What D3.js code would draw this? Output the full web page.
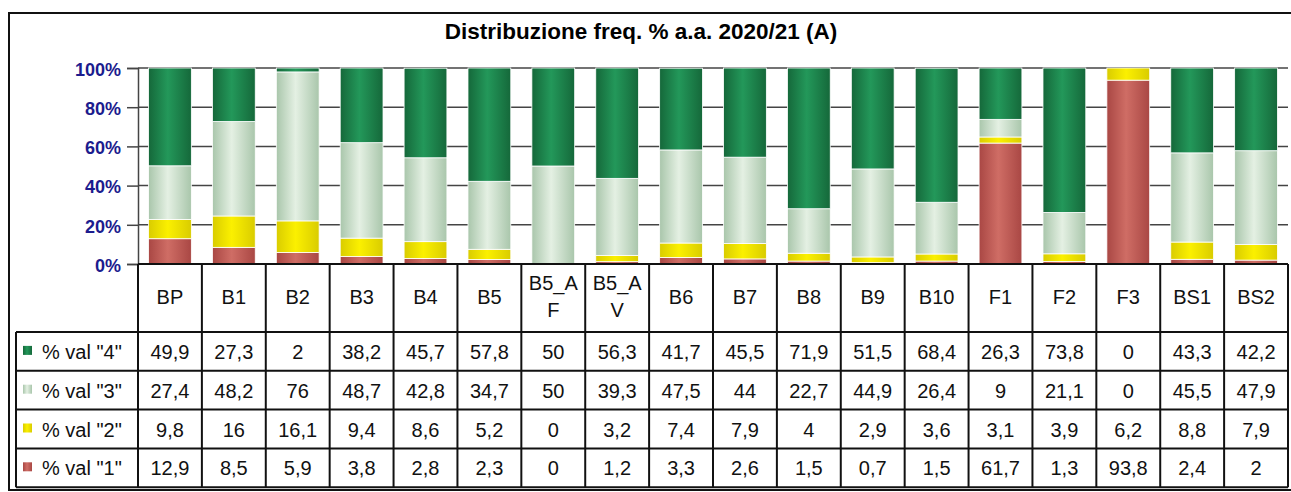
<!DOCTYPE html>
<html lang="it">
<head>
<meta charset="UTF-8">
<title>Distribuzione freq.</title>
<style>
  body { margin: 0; background: #fff; }
  svg { display: block; font-family: "Liberation Sans", Arial, sans-serif; }
</style>
</head>
<body>
<svg width="1291" height="492"></svg>
<script src="https://d3js.org/d3.v7.min.js"></script>
<script>
// data
var categories = ["BP","B1","B2","B3","B4","B5","B5_AF","B5_AV","B6","B7","B8","B9","B10","F1","F2","F3","BS1","BS2"];
var headerLabels = ["BP","B1","B2","B3","B4","B5","B5_A|F","B5_A|V","B6","B7","B8","B9","B10","F1","F2","F3","BS1","BS2"];
var val4 = [49.9,27.3,2,38.2,45.7,57.8,50,56.3,41.7,45.5,71.9,51.5,68.4,26.3,73.8,0,43.3,42.2];
var val3 = [27.4,48.2,76,48.7,42.8,34.7,50,39.3,47.5,44,22.7,44.9,26.4,9,21.1,0,45.5,47.9];
var val2 = [9.8,16,16.1,9.4,8.6,5.2,0,3.2,7.4,7.9,4,2.9,3.6,3.1,3.9,6.2,8.8,7.9];
var val1 = [12.9,8.5,5.9,3.8,2.8,2.3,0,1.2,3.3,2.6,1.5,0.7,1.5,61.7,1.3,93.8,2.4,2];
var seriesNames = ['% val "4"', '% val "3"', '% val "2"', '% val "1"'];
var yTicks = [0,20,40,60,80,100];
var title = "Distribuzione freq. % a.a. 2020/21 (A)";

var svg = d3.select("svg");

// layout
var plotLeft = 138, plotRight = 1288, plotTop = 68, plotBottom = 264;
var headerBottom = 332, rowH = 38.8, legendLeft = 16;

// gradients (cylinder look)
var defs = svg.append("defs");
var grad = [
  ["g4", "#15683a", "#23985a"],
  ["g3", "#a9c6ab", "#e4f0e3"],
  ["g2", "#d9cc00", "#fbf000"],
  ["g1", "#a94744", "#cf6d65"]
];
grad.forEach(function(g) {
  var lg = defs.append("linearGradient").attr("id", g[0]).attr("x1", 0).attr("x2", 1).attr("y1", 0).attr("y2", 0);
  lg.append("stop").attr("offset", "0%").attr("stop-color", g[1]);
  lg.append("stop").attr("offset", "45%").attr("stop-color", g[2]);
  lg.append("stop").attr("offset", "100%").attr("stop-color", g[1]);
});

// outer frame
svg.append("rect")
  .attr("x", 9).attr("y", 13).attr("width", 1300).attr("height", 477)
  .attr("fill", "none").attr("stroke", "#111").attr("stroke-width", 2);

svg.append("text")
  .attr("x", 641).attr("y", 39)
  .attr("text-anchor", "middle")
  .attr("font-size", 22.5).attr("font-weight", "bold")
  .text(title);

var x = d3.scaleBand().domain(categories).range([plotLeft, plotRight])
  .paddingInner(0.33).paddingOuter(0.165);
var y = d3.scaleLinear().domain([0, 100]).range([plotBottom, plotTop]);

// gridlines
svg.append("g").selectAll("line").data(yTicks.slice(1)).join("line")
  .attr("x1", plotLeft).attr("x2", plotRight)
  .attr("y1", function(d) { return y(d); }).attr("y2", function(d) { return y(d); })
  .attr("stroke", "#444").attr("stroke-width", 1.5);

// y axis
var yAxis = svg.append("g").attr("transform", "translate(" + plotLeft + ",0)")
  .call(d3.axisLeft(y).tickValues(yTicks).tickSize(11).tickPadding(6).tickFormat(function(d) { return d + "%"; }));
yAxis.select(".domain").attr("stroke", "#444").attr("stroke-width", 1.5);
yAxis.selectAll(".tick line").attr("stroke", "#444").attr("stroke-width", 1.5);
yAxis.selectAll("text").attr("fill", "#1c1c8e").attr("font-size", 18).attr("font-weight", "bold")
  .attr("font-family", "Liberation Sans, Arial, sans-serif").attr("dy", "0.4em");

// stacked bars
var rows = categories.map(function(c, i) { return { cat: c, v1: val1[i], v2: val2[i], v3: val3[i], v4: val4[i] }; });
var stack = d3.stack().keys(["v1", "v2", "v3", "v4"]);
var stacked = stack(rows);
var fills = { v1: "url(#g1)", v2: "url(#g2)", v3: "url(#g3)", v4: "url(#g4)" };

svg.append("g").selectAll("g").data(stacked).join("g")
  .attr("fill", function(s) { return fills[s.key]; })
  .selectAll("rect").data(function(s) { return s; }).join("rect")
  .attr("x", function(d) { return x(d.data.cat); })
  .attr("width", x.bandwidth())
  .attr("y", function(d) { return y(Math.min(d[1], 100)); })
  .attr("height", function(d) { return Math.max(0, y(d[0]) - y(Math.min(d[1], 100))); })
  .attr("stroke", "#fff").attr("stroke-width", function(d) { return d[1] - d[0] > 0 ? 0.8 : 0; });

// data table
var colW = x.step();
var tableBottom = headerBottom + 4 * rowH;
var table = svg.append("g").attr("stroke", "#111").attr("stroke-width", 2);
table.append("line").attr("x1", plotLeft).attr("x2", plotRight).attr("y1", plotBottom).attr("y2", plotBottom);
for (var r = 0; r <= 4; r++) {
  table.append("line").attr("x1", legendLeft).attr("x2", plotRight)
    .attr("y1", headerBottom + r * rowH).attr("y2", headerBottom + r * rowH);
}
for (var c = 0; c <= categories.length; c++) {
  var xx = plotLeft + c * colW;
  table.append("line").attr("x1", xx).attr("x2", xx).attr("y1", plotBottom).attr("y2", tableBottom);
}
table.append("line").attr("x1", legendLeft).attr("x2", legendLeft).attr("y1", headerBottom).attr("y2", tableBottom);

// header labels
svg.append("g").selectAll("text").data(headerLabels).join("text")
  .attr("text-anchor", "middle").attr("font-size", 20).attr("fill", "#111")
  .attr("x", function(d, i) { return plotLeft + (i + 0.5) * colW; })
  .attr("y", function(d) { return d.indexOf("|") >= 0 ? 290 : 304; })
  .each(function(d) {
    var parts = d.split("|");
    var t = d3.select(this);
    parts.forEach(function(p, k) {
      t.append("tspan").attr("x", t.attr("x")).attr("dy", k === 0 ? 0 : 27).text(p);
    });
  });

// value rows
var tableSeries = [val4, val3, val2, val1];
var legendFills = ["url(#g4)", "url(#g3)", "url(#g2)", "url(#g1)"];
tableSeries.forEach(function(vals, r) {
  var cy = headerBottom + (r + 0.5) * rowH + 7.5;
  svg.append("rect").attr("x", 23).attr("y", cy - 13).attr("width", 9).attr("height", 9)
    .attr("fill", legendFills[r]);
  svg.append("text").attr("x", 42).attr("y", cy).attr("font-size", 20).attr("fill", "#111")
    .text(seriesNames[r]);
  svg.append("g").selectAll("text").data(vals).join("text")
    .attr("text-anchor", "middle").attr("font-size", 20).attr("fill", "#111")
    .attr("x", function(d, i) { return plotLeft + (i + 0.5) * colW; })
    .attr("y", cy)
    .text(function(d) { return String(d).replace(".", ","); });
});
</script>
</body>
</html>
